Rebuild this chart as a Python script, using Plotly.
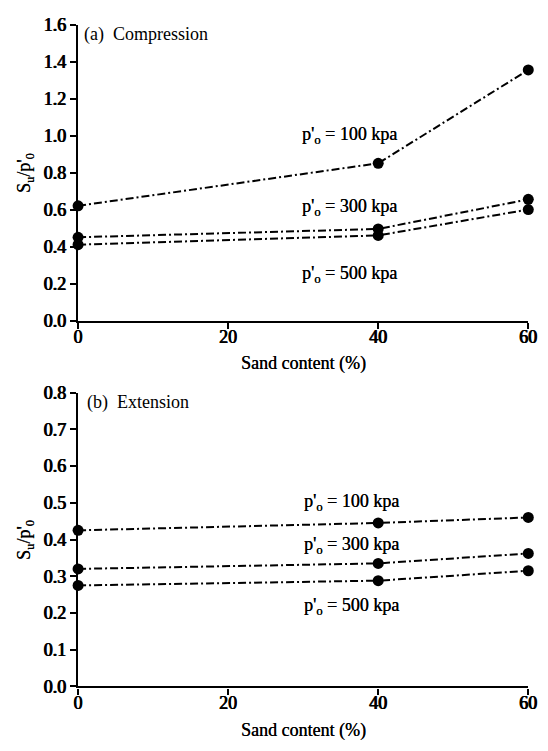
import plotly.graph_objects as go
from plotly.subplots import make_subplots

# Sand content (%) on the x axis
sand_content = [0, 40, 60]

# Normalised undrained strength S_u/p'_0, compression tests
comp_100 = [0.62, 0.85, 1.355]
comp_300 = [0.45, 0.495, 0.655]
comp_500 = [0.41, 0.46, 0.60]

# Normalised undrained strength S_u/p'_0, extension tests
ext_100 = [0.425, 0.445, 0.46]
ext_300 = [0.32, 0.335, 0.362]
ext_500 = [0.275, 0.288, 0.315]

pressure_labels = ["p'<sub>o</sub> = 100 kpa", "p'<sub>o</sub> = 300 kpa", "p'<sub>o</sub> = 500 kpa"]
x_ticks = [0, 20, 40, 60]
y_ticks_top = [0.0, 0.2, 0.4, 0.6, 0.8, 1.0, 1.2, 1.4, 1.6]
y_ticks_bottom = [0.0, 0.1, 0.2, 0.3, 0.4, 0.5, 0.6, 0.7, 0.8]

W, H = 548, 751
FONT = "Liberation Serif"
# heavier serif lettering, thickened with a thin horizontal shadow
HEAVY = "0.45px 0px 0px black, -0.45px 0px 0px black"

fig = make_subplots(rows=2, cols=1)

line_style = dict(color="black", width=2, dash="8px,3px,2px,3px")
marker_style = dict(color="black", size=11, symbol="circle")

for ys in (comp_100, comp_300, comp_500):
    fig.add_trace(go.Scatter(x=sand_content, y=ys, mode="lines+markers",
                             line=line_style, marker=marker_style,
                             cliponaxis=False, showlegend=False), row=1, col=1)
for ys in (ext_100, ext_300, ext_500):
    fig.add_trace(go.Scatter(x=sand_content, y=ys, mode="lines+markers",
                             line=line_style, marker=marker_style,
                             cliponaxis=False, showlegend=False), row=2, col=1)

# plot area placement in pixels
x_left, x_right = 75, 537
top_y0, top_y1 = 319, 15
bot_y0, bot_y1 = 695, 393

xdom = [x_left / W, x_right / W]
fig.update_layout(
    width=W, height=H,
    margin=dict(l=0, r=0, t=0, b=0),
    paper_bgcolor="white", plot_bgcolor="white",
    font=dict(family=FONT, color="black", size=16),
    xaxis=dict(domain=xdom, anchor="y"),
    xaxis2=dict(domain=xdom, anchor="y2"),
    yaxis=dict(domain=[(H - top_y0) / H, (H - top_y1) / H], anchor="x"),
    yaxis2=dict(domain=[(H - bot_y0) / H, (H - bot_y1) / H], anchor="x2"),
)

axis_common = dict(showgrid=False, zeroline=False, showline=True, linecolor="black",
                   linewidth=2.4, ticks="outside", ticklen=6, tickwidth=2,
                   tickcolor="black",
                   tickfont=dict(family=FONT, size=18, color="black", shadow=HEAVY))

for r in (1, 2):
    fig.update_xaxes(range=[0, 60], tickvals=x_ticks, ticktext=[str(v) for v in x_ticks],
                     ticklabelstandoff=-7, row=r, col=1, **axis_common)
fig.update_yaxes(range=[0, 1.6], tickvals=y_ticks_top,
                 ticktext=[f"{v:.1f}" for v in y_ticks_top], row=1, col=1, **axis_common)
fig.update_yaxes(range=[0, 0.8], tickvals=y_ticks_bottom,
                 ticktext=[f"{v:.1f}" for v in y_ticks_bottom], row=2, col=1, **axis_common)

ann_font = dict(family=FONT, size=18, color="black")
label_font = dict(family=FONT, size=18, color="black", shadow="0.3px 0px 0px black")
title_font = dict(family=FONT, size=18, color="black", shadow="0.3px 0px 0px black")

annotations = [
    dict(x=0.5, y=1.547, xref="x", yref="y", text="(a)&nbsp;&nbsp;Compression",
         xanchor="left", yanchor="middle", showarrow=False, font=ann_font),
    dict(x=0.9, y=0.772, xref="x2", yref="y2", text="(b)&nbsp;&nbsp;Extension",
         xanchor="left", yanchor="middle", showarrow=False, font=ann_font),
]

top_label_y = [1.0, 0.61, 0.247]
bot_label_y = [0.502, 0.383, 0.217]
for txt, yv in zip(pressure_labels, top_label_y):
    annotations.append(dict(x=36.2, y=yv, xref="x", yref="y", text=txt, showarrow=False,
                            xanchor="center", yanchor="middle", font=label_font))
for txt, yv in zip(pressure_labels, bot_label_y):
    annotations.append(dict(x=36.4, y=yv, xref="x2", yref="y2", text=txt, showarrow=False,
                            xanchor="center", yanchor="middle", font=label_font))

# axis titles
for ypix in (363, 740):
    annotations.append(dict(x=(x_left + x_right) / 2 / W, y=(H - ypix) / H, xref="paper",
                            yref="paper", text="Sand content (%)", showarrow=False,
                            xanchor="center", yanchor="middle", font=title_font))
for ypix in ((top_y0 + top_y1) / 2, (bot_y0 + bot_y1) / 2):
    annotations.append(dict(x=21 / W, y=(H - ypix) / H, xref="paper", yref="paper",
                            text="S<sub>u</sub>/p'<sub>0</sub>", textangle=-90,
                            showarrow=False, xanchor="center", yanchor="middle",
                            font=title_font))

fig.update_layout(annotations=annotations)
fig.write_html("out.html")
